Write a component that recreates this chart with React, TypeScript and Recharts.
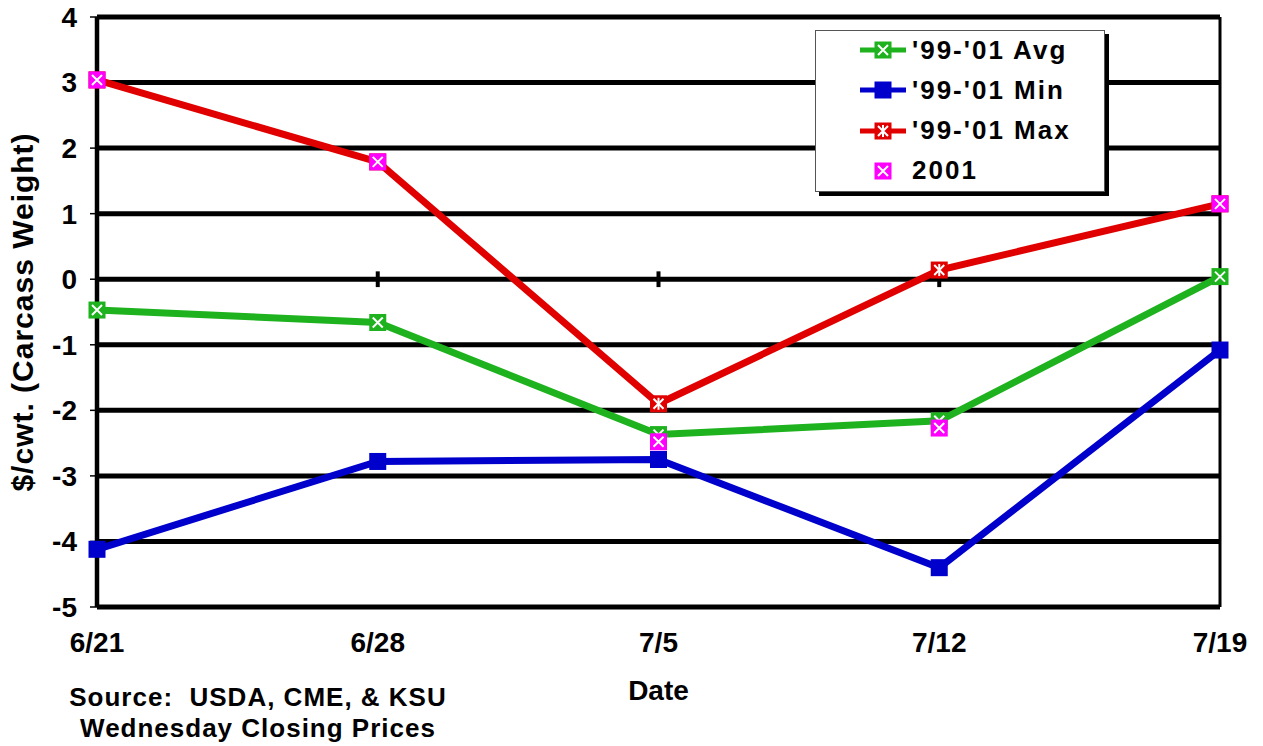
import React from "react";
import {
  LineChart,
  Line,
  XAxis,
  YAxis,
  CartesianGrid,
  ReferenceLine,
  Label,
} from "recharts";

const dates = ["6/21", "6/28", "7/5", "7/12", "7/19"];
const avgValues = [-0.47, -0.66, -2.37, -2.16, 0.04];
const minValues = [-4.12, -2.78, -2.75, -4.4, -1.08];
const maxValues = [3.04, 1.79, -1.9, 0.14, 1.15];
const values2001 = [3.04, 1.79, -2.48, -2.27, 1.15];
const yTicks = [-5, -4, -3, -2, -1, 0, 1, 2, 3, 4];

const chartData = dates.map((date, i) => ({
  date,
  avg: avgValues[i],
  min: minValues[i],
  max: maxValues[i],
  y2001: values2001[i],
}));

type Kind = "x" | "square" | "star";

const series: { key: string; name: string; color: string; kind: Kind; line: boolean }[] = [
  { key: "avg", name: "'99-'01 Avg", color: "#1eb21e", kind: "x", line: true },
  { key: "min", name: "'99-'01 Min", color: "#0000cc", kind: "square", line: true },
  { key: "max", name: "'99-'01 Max", color: "#e00000", kind: "star", line: true },
  { key: "y2001", name: "2001", color: "#ff00ff", kind: "x", line: false },
];

const FONT = "'Liberation Sans', Arial, sans-serif";
const MARK = 17;

function Marker({ cx, cy, color, kind }: { cx: number; cy: number; color: string; kind: Kind }) {
  const h = MARK / 2;
  const a = 5;
  return (
    <g>
      <rect x={cx - h} y={cy - h} width={MARK} height={MARK} fill={color} />
      {kind !== "square" && (
        <path
          d={`M${cx - a},${cy - a}L${cx + a},${cy + a}M${cx - a},${cy + a}L${cx + a},${cy - a}`}
          stroke="#fff"
          strokeWidth={2}
        />
      )}
      {kind === "star" && (
        <path d={`M${cx},${cy - 6}L${cx},${cy + 6}`} stroke="#fff" strokeWidth={2} />
      )}
    </g>
  );
}

function LegendBox() {
  return (
    <div
      style={{
        position: "absolute",
        left: 815,
        top: 30,
        width: 290,
        height: 162,
        boxSizing: "border-box",
        border: "1px solid #555",
        background: "#fff",
        boxShadow: "4px 4px 0 #000",
        fontFamily: FONT,
        fontWeight: 700,
        fontSize: 26,
        letterSpacing: 2,
        color: "#000",
      }}
    >
      {series.map((s, i) => (
        <div
          key={s.key}
          style={{
            position: "absolute",
            left: 44,
            top: 19 + i * 40.3 - 20,
            height: 40,
            display: "flex",
            alignItems: "center",
          }}
        >
          <svg width={48} height={20}>
            {s.line && <line x1={0} y1={10} x2={46} y2={10} stroke={s.color} strokeWidth={5} />}
            <Marker cx={23} cy={10} color={s.color} kind={s.kind} />
          </svg>
          <span style={{ marginLeft: 4, whiteSpace: "nowrap" }}>{s.name}</span>
        </div>
      ))}
    </div>
  );
}

export default function App() {
  const tickStyle = { fill: "#000", fontSize: 28, fontWeight: 700, fontFamily: FONT };
  return (
    <div style={{ position: "absolute", left: 0, top: 0, width: 1263, height: 746, background: "#fff" }}>
      <LineChart
        width={1263}
        height={746}
        data={chartData}
        margin={{ top: 17, right: 0, bottom: 0, left: 0 }}
      >
        <CartesianGrid yAxisId="left" vertical={false} stroke="#000" strokeWidth={5} />
        <XAxis
          dataKey="date"
          height={139}
          axisLine={false}
          tickLine={false}
          tickMargin={19}
          tick={tickStyle}
          interval={0}
        >
          <Label
            value="Date"
            position="insideBottom"
            offset={46}
            style={{ fill: "#000", fontSize: 28, fontWeight: 700, fontFamily: FONT }}
          />
        </XAxis>
        <YAxis
          yAxisId="left"
          width={97}
          domain={[-5, 4]}
          ticks={yTicks}
          interval={0}
          axisLine={{ stroke: "#000", strokeWidth: 4.5 }}
          tickLine={{ stroke: "#000", strokeWidth: 1.5 }}
          tickSize={7}
          tickMargin={13}
          tick={tickStyle}
        >
          <Label
            value="$/cwt. (Carcass Weight)"
            angle={-90}
            position="insideLeft"
            offset={22}
            style={{
              fill: "#000",
              fontSize: 30,
              fontWeight: 700,
              fontFamily: FONT,
              letterSpacing: 1,
              textAnchor: "middle",
            }}
          />
        </YAxis>
        <YAxis
          yAxisId="right"
          orientation="right"
          width={43}
          domain={[-5, 4]}
          tick={false}
          tickLine={false}
          axisLine={{ stroke: "#000", strokeWidth: 3 }}
        />
        {dates.slice(1, 4).map((d) => (
          <ReferenceLine
            key={d}
            yAxisId="left"
            segment={[
              { x: d, y: -0.12 },
              { x: d, y: 0.12 },
            ]}
            stroke="#000"
            strokeWidth={4}
          />
        ))}
        {series.map((s) => (
          <Line
            key={s.key}
            yAxisId="left"
            type="linear"
            dataKey={s.key}
            name={s.name}
            stroke={s.line ? s.color : "none"}
            strokeWidth={7}
            isAnimationActive={false}
            dot={(p: any) => (
              <Marker key={`${s.key}-${p.index}`} cx={p.cx} cy={p.cy} color={s.color} kind={s.kind} />
            )}
            activeDot={false}
          />
        ))}
      </LineChart>
      <LegendBox />
      <div
        style={{
          position: "absolute",
          left: 8,
          top: 682,
          width: 500,
          textAlign: "center",
          fontFamily: FONT,
          fontWeight: 700,
          fontSize: 26,
          lineHeight: "31px",
          letterSpacing: 1,
          color: "#000",
        }}
      >
        <div>Source:&nbsp; USDA, CME, &amp; KSU</div>
        <div>Wednesday Closing Prices</div>
      </div>
    </div>
  );
}
